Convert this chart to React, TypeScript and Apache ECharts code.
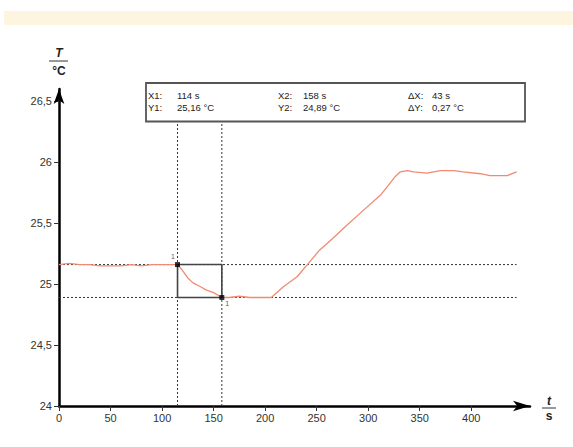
import React, { useEffect, useRef } from "react";
import * as echarts from "echarts";

// ---- data ----
const timeS = [0, 10, 20, 30, 40, 50, 60, 70, 80, 90, 100, 110, 115, 119, 125, 130, 137, 143, 150, 158, 165, 175, 185, 195, 206, 218, 231, 242, 253, 265, 279, 292, 312, 326, 331, 338, 344, 357, 370, 383, 392, 409, 418, 435, 444];
const tempC = [25.16, 25.17, 25.16, 25.16, 25.15, 25.15, 25.15, 25.16, 25.15, 25.16, 25.16, 25.16, 25.16, 25.12, 25.05, 25.01, 24.98, 24.95, 24.93, 24.89, 24.89, 24.9, 24.89, 24.89, 24.89, 24.98, 25.06, 25.17, 25.28, 25.37, 25.48, 25.58, 25.73, 25.88, 25.92, 25.93, 25.92, 25.91, 25.93, 25.93, 25.92, 25.905, 25.89, 25.89, 25.92];

const cursorX = [115, 158];
const cursorY = [25.16, 24.89];
const cursorNames = ["1", "1"];

const xTicks = [0, 50, 100, 150, 200, 250, 300, 350, 400];
const yTicks = [24, 24.5, 25, 25.5, 26, 26.5];

const readoutLabels = [["X1:", "114 s", "X2:", "158 s", "ΔX:", "43 s"], ["Y1:", "25,16 °C", "Y2:", "24,89 °C", "ΔY:", "0,27 °C"]];

const X_MIN = 0;
const X_MAX = 457;
const Y_MIN = 24;
const Y_MAX = 26.6;

const FONT = "Liberation Sans, Arial, sans-serif";

export default function App() {
  const ref = useRef<HTMLDivElement>(null);

  useEffect(() => {
    if (!ref.current) return;
    const chart = echarts.init(ref.current, null, { renderer: "svg" });

    const curve = timeS.map((t, i) => [t, tempC[i]]);
    const xEnd = timeS[timeS.length - 1];

    const dotted = { color: "#333", width: 1, type: [2, 2] as any };

    const readoutX = [148, 177, 278, 303, 408, 432];
    const readoutY = [95, 107];
    const readoutTexts: any[] = [];
    readoutLabels.forEach((row, r) => {
      row.forEach((txt, c) => {
        readoutTexts.push({
          type: "text",
          x: readoutX[c],
          y: readoutY[r],
          z: 101,
          style: { text: txt, fill: "#222", font: `9.5px ${FONT}`, textVerticalAlign: "middle", textAlign: "left" },
        });
      });
    });

    const option: any = {
      animation: false,
      backgroundColor: "#fff",
      grid: { left: 59, right: 43, top: 89, bottom: 41, containLabel: false },
      xAxis: {
        type: "value",
        min: X_MIN,
        max: X_MAX,
        interval: 50,
        splitLine: { show: false },
        axisLine: { show: true, lineStyle: { color: "#000", width: 2.5 }, symbol: ["none", "arrow"], symbolSize: [8, 17] },
        axisTick: { show: true, length: 5, lineStyle: { color: "#333", width: 1 }, customValues: xTicks },
        axisLabel: {
          margin: 6,
          color: "#333",
          fontFamily: FONT,
          fontSize: 11,
          customValues: xTicks,
        },
      },
      yAxis: {
        type: "value",
        min: Y_MIN,
        max: Y_MAX,
        interval: 0.5,
        splitLine: { show: false },
        axisLine: { show: true, lineStyle: { color: "#000", width: 2.5 }, symbol: ["none", "arrow"], symbolSize: [8, 15] },
        axisTick: { show: true, length: 5, lineStyle: { color: "#333", width: 1 }, customValues: yTicks },
        axisLabel: {
          margin: 7,
          color: "#333",
          fontFamily: FONT,
          fontSize: 11,
          customValues: yTicks,
          formatter: (v: number) => String(v).replace(".", ","),
        },
      },
      series: [
        {
          type: "line",
          data: [[X_MIN, cursorY[0]], [xEnd, cursorY[0]]],
          symbol: "none",
          lineStyle: dotted,
          z: 1,
          silent: true,
        },
        {
          type: "line",
          data: [[X_MIN, cursorY[1]], [xEnd, cursorY[1]]],
          symbol: "none",
          lineStyle: dotted,
          z: 1,
          silent: true,
        },
        {
          type: "line",
          data: [[cursorX[0], Y_MIN], [cursorX[0], Y_MAX]],
          symbol: "none",
          lineStyle: dotted,
          z: 1,
          silent: true,
        },
        {
          type: "line",
          data: [[cursorX[1], Y_MIN], [cursorX[1], Y_MAX]],
          symbol: "none",
          lineStyle: dotted,
          z: 1,
          silent: true,
        },
        {
          type: "line",
          data: curve,
          symbol: "none",
          lineStyle: { color: "#f08a72", width: 1.3 },
          z: 3,
          silent: true,
        },
        {
          type: "line",
          data: [
            [cursorX[0], cursorY[0]],
            [cursorX[1], cursorY[0]],
            [cursorX[1], cursorY[1]],
            [cursorX[0], cursorY[1]],
            [cursorX[0], cursorY[0]],
          ],
          symbol: "none",
          lineStyle: { color: "#444", width: 1.6 },
          z: 4,
          silent: true,
        },
        {
          type: "scatter",
          symbol: "rect",
          symbolSize: 5,
          itemStyle: { color: "#000" },
          z: 5,
          silent: true,
          labelLayout: { hideOverlap: false },
          label: { show: true, formatter: cursorNames[0], position: [-4, -9], fontSize: 7, color: "#222", fontFamily: FONT },
          data: [[cursorX[0], cursorY[0]]],
        },
        {
          type: "scatter",
          symbol: "rect",
          symbolSize: 5,
          itemStyle: { color: "#000" },
          z: 5,
          silent: true,
          labelLayout: { hideOverlap: false },
          label: { show: true, formatter: cursorNames[1], position: [6, 5], fontSize: 7, color: "#222", fontFamily: FONT },
          data: [[cursorX[1], cursorY[1]]],
        },
      ],
      graphic: [
        { type: "rect", shape: { x: 4, y: 11, width: 569, height: 14 }, style: { fill: "#fdf5df" }, z: 100 },
        { type: "rect", shape: { x: 146, y: 83, width: 379, height: 38.5 }, style: { fill: "#fff", stroke: "#555", lineWidth: 1.8 }, z: 100 },
        ...readoutTexts,
        { type: "text", x: 59, y: 53, z: 101, style: { text: "T", font: `italic bold 12px ${FONT}`, fill: "#222", textAlign: "center", textVerticalAlign: "middle" } },
        { type: "line", shape: { x1: 49, y1: 61, x2: 68, y2: 61 }, style: { stroke: "#333", lineWidth: 1 }, z: 101 },
        { type: "text", x: 59, y: 71, z: 101, style: { text: "°C", font: `bold 12px ${FONT}`, fill: "#222", textAlign: "center", textVerticalAlign: "middle" } },
        { type: "text", x: 549, y: 401, z: 101, style: { text: "t", font: `italic bold 12px ${FONT}`, fill: "#222", textAlign: "center", textVerticalAlign: "middle" } },
        { type: "line", shape: { x1: 542, y1: 408, x2: 556, y2: 408 }, style: { stroke: "#333", lineWidth: 1 }, z: 101 },
        { type: "text", x: 549, y: 416, z: 101, style: { text: "s", font: `bold 12px ${FONT}`, fill: "#222", textAlign: "center", textVerticalAlign: "middle" } },
      ],
    };

    chart.setOption(option);
    return () => chart.dispose();
  }, []);

  return <div ref={ref} style={{ position: "fixed", left: 0, top: 0, width: 573, height: 447 }} />;
}
